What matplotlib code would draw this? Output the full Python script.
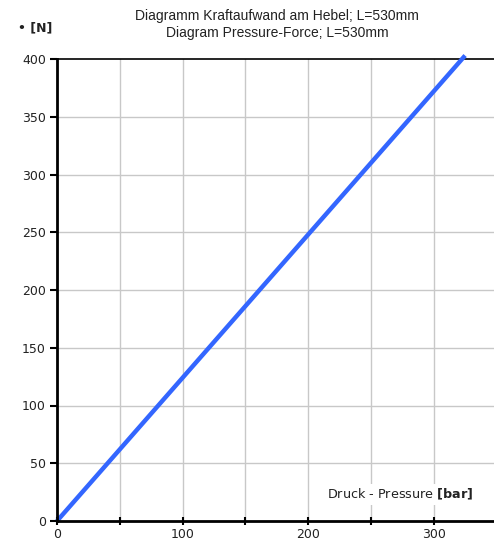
import matplotlib
matplotlib.use("Agg")
import matplotlib.pyplot as plt

pressure = [0, 325]
force = [0, 403]
xticks = [0, 100, 200, 300]
yticks = [0, 50, 100, 150, 200, 250, 300, 350, 400]

fig = plt.figure(figsize=(4.94, 5.45), dpi=100)
ax = fig.add_axes([57/494, 24/545, 437/494, 462/545])
ax.set_xlim(0, 348)
ax.set_ylim(0, 400)

for v in range(50, 350, 50):
    ax.axvline(v, color="#c8c8c8", lw=1, zorder=1)
for v in range(50, 400, 50):
    ax.axhline(v, color="#c8c8c8", lw=1, zorder=1)
ax.axhline(400, color="black", lw=1.2, zorder=2, clip_on=False)

ax.plot(pressure, force, color="#3366ff", lw=3.2, zorder=4, clip_on=False, solid_capstyle="butt")

for s in ["top", "right"]:
    ax.spines[s].set_visible(False)
for s in ["left", "bottom"]:
    ax.spines[s].set_linewidth(2)
    ax.spines[s].set_zorder(5)

ax.set_xticks(range(0, 350, 50))
ax.set_xticklabels([str(v) if v in xticks else "" for v in range(0, 350, 50)])
ax.set_yticks(yticks)
ax.tick_params(axis="x", direction="inout", length=6, width=1.5, labelsize=9, pad=2, labelcolor="#222222")
ax.tick_params(axis="y", direction="out", length=5, width=1.5, labelsize=9, pad=3, labelcolor="#222222")

ax.text(0.952, 0.058, "Druck - Pressure $\\bf{[bar]}$", transform=ax.transAxes,
        ha="right", va="center", fontsize=9.2, color="#222222",
        bbox=dict(facecolor="white", edgecolor="none", pad=2), zorder=6)

fig.text(277/494, 1-16/545, "Diagramm Kraftaufwand am Hebel; L=530mm", ha="center", va="center",
         fontsize=10, family="Liberation Sans", color="#222222")
fig.text(277/494, 1-33/545, "Diagram Pressure-Force; L=530mm", ha="center", va="center",
         fontsize=10, family="Liberation Sans", color="#222222")
fig.text(18/494, 1-28/545, "• [N]", ha="left", va="center", fontsize=9, fontweight="bold", color="#222222")

fig.savefig("out.png", dpi=100)
